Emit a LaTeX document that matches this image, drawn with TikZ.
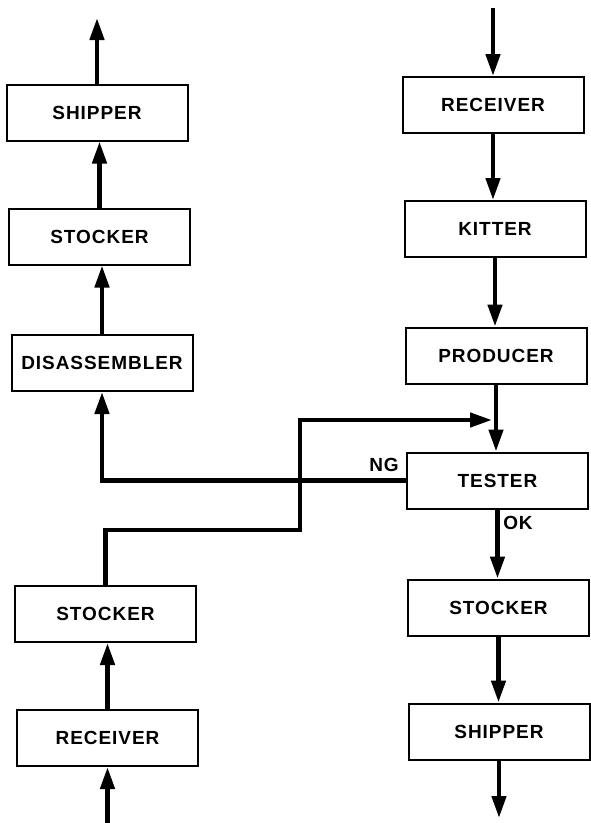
\documentclass[tikz,border=0pt]{standalone}
\usepackage{fontspec}
\setmainfont{Liberation Sans}
\newfontfamily\lblfont[LetterSpace=5]{Liberation Sans}
\usetikzlibrary{arrows.meta}
\begin{document}
\begin{tikzpicture}[x=1pt,y=-1pt,
  box/.style={draw,line width=2pt,minimum width=181pt,minimum height=56pt,inner sep=0pt,
    font=\lblfont\bfseries\fontsize{19}{19}\selectfont},
  lbl/.style={inner sep=0pt,font=\lblfont\bfseries\fontsize{19}{19}\selectfont},
  arr/.style={line width=4.5pt,-{Triangle[length=22pt,width=14pt]}},
  wire/.style={line width=4.5pt}]
\useasboundingbox (0,0) rectangle (591,823);
% left column
\node[box] (lship) at (97,112.5) {SHIPPER};
\node[box] (lstk1) at (99.5,236.5) {STOCKER};
\node[box] (dis) at (102,363) {DISASSEMBLER};
\node[box] (lstk2) at (105.5,614) {STOCKER};
\node[box] (lrec) at (107.5,738) {RECEIVER};
% right column
\node[box] (rrec) at (493,105) {RECEIVER};
\node[box] (kit) at (495,229) {KITTER};
\node[box] (prod) at (496,355.5) {PRODUCER};
\node[box] (test) at (497.5,480.5) {TESTER};
\node[box] (rstk) at (498.5,607.5) {STOCKER};
\node[box] (rship) at (499,731.5) {SHIPPER};
% labels
\node[lbl] (ng) at (384,465) {NG};
\node[lbl] (ok) at (518,523) {OK};
% free ends
\coordinate (ltop) at (96,18);
\coordinate (rtop) at (491,8);
\coordinate (lbot) at (108,823);
\coordinate (rbot) at (503,818);
\coordinate (s1) at (300,530);
\coordinate (s2) at (300,420);
% left column connectors
\draw[arr] (lship.north) -- (lship.north |- ltop);
\draw[arr] (lstk1.north) -- (lstk1.north |- lship.south);
\draw[arr] (dis.north) -- (dis.north |- lstk1.south);
\draw[arr] (lrec.north) -- (lrec.north |- lstk2.south);
\draw[arr] (lrec.south |- lbot) -- (lrec.south);
% right column connectors
\draw[arr] (rrec.north |- rtop) -- (rrec.north);
\draw[arr] (rrec.south) -- (rrec.south |- kit.north);
\draw[arr] (kit.south) -- (kit.south |- prod.north);
\draw[arr] (prod.south) -- (prod.south |- test.north);
\draw[arr] (test.south) -- (test.south |- rstk.north);
\draw[arr] (rstk.south) -- (rstk.south |- rship.north);
\draw[arr] (rship.south) -- (rship.south |- rbot);
% NG return
\draw[arr] (test.west) -- (test.west -| dis.south) -- (dis.south);
% stocker to tester input
\draw[arr,shorten >=4pt] (lstk2.north) -- (lstk2.north |- s1) -- (s1) -- (s2) -- (s2 -| prod.south);
\end{tikzpicture}
\end{document}
